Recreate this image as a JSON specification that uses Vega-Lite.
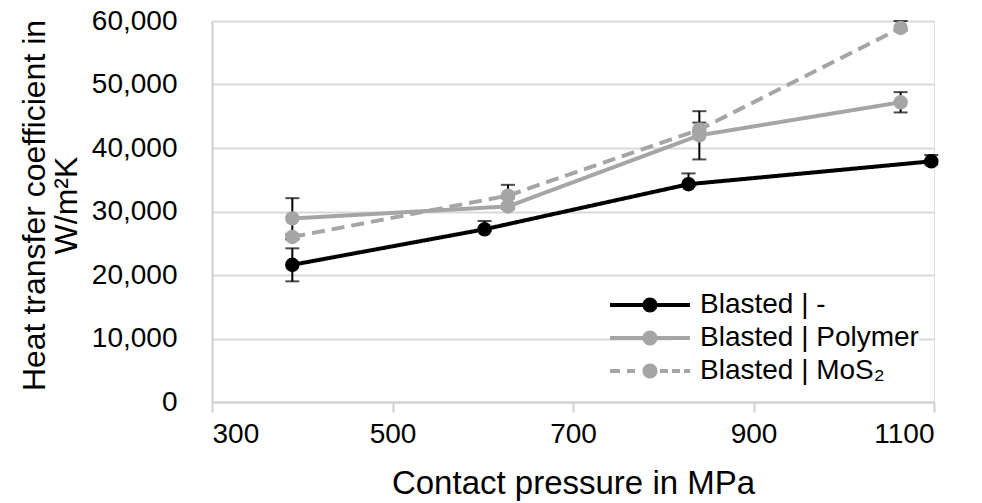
{
  "$schema": "https://vega.github.io/schema/vega-lite/v6.json",
  "autosize": {"type": "none"},
  "padding": {"left": 212, "top": 21, "right": 48, "bottom": 101},
  "width": 722,
  "height": 381,
  "background": "white",
  "data": {
    "values": [
      {"series": "Blasted | -", "p": 389, "h": 21600, "lo": 19000, "hi": 24200},
      {"series": "Blasted | -", "p": 602, "h": 27200, "lo": 26900, "hi": 28500},
      {"series": "Blasted | -", "p": 828, "h": 34300, "lo": 34000, "hi": 36000},
      {"series": "Blasted | -", "p": 1097, "h": 37900, "lo": 37400, "hi": 38900},
      {"series": "Blasted | Polymer", "p": 389, "h": 28900, "lo": 25700, "hi": 32100},
      {"series": "Blasted | Polymer", "p": 628, "h": 30800, "lo": 30400, "hi": 31200},
      {"series": "Blasted | Polymer", "p": 840, "h": 42000, "lo": 38200, "hi": 45800},
      {"series": "Blasted | Polymer", "p": 1063, "h": 47200, "lo": 45600, "hi": 48800},
      {"series": "Blasted | MoS₂", "p": 389, "h": 26000, "lo": 25600, "hi": 26400},
      {"series": "Blasted | MoS₂", "p": 628, "h": 32500, "lo": 32100, "hi": 34200},
      {"series": "Blasted | MoS₂", "p": 840, "h": 42900, "lo": 42500, "hi": 44000},
      {"series": "Blasted | MoS₂", "p": 1063, "h": 58900, "lo": 58500, "hi": 60000}
    ]
  },
  "layer": [
    {
      "mark": {"type": "errorbar", "ticks": {"size": 14, "thickness": 2, "color": "black"}, "rule": {"strokeWidth": 2, "color": "black"}},
      "encoding": {
        "x": {"field": "p", "type": "quantitative", "title": "Contact pressure in MPa"},
        "y": {"field": "lo", "type": "quantitative", "title": ["Heat transfer coefficient in", "W/m²K"]},
        "y2": {"field": "hi"}
      }
    },
    {
      "mark": {"type": "line", "strokeWidth": 4},
      "encoding": {
        "x": {
          "field": "p", "type": "quantitative", "title": "Contact pressure in MPa",
          "scale": {"domain": [300, 1100], "nice": false, "zero": false},
          "axis": {
            "values": [300, 500, 700, 900, 1100], "format": "d", "grid": false,
            "domainColor": "#d0d0d0", "domainWidth": 2,
            "ticks": true, "tickColor": "#d0d0d0", "tickWidth": 2, "tickSize": 10,
            "labelFont": "Liberation Sans", "labelFontSize": 28, "labelColor": "black", "labelPadding": 8,
            "titleFont": "Liberation Sans", "titleFontSize": 33, "titleFontWeight": "normal", "titleColor": "black",
            "titleBaseline": "alphabetic", "titleY": 91
          }
        },
        "y": {
          "field": "h", "type": "quantitative", "title": ["Heat transfer coefficient in", "W/m²K"],
          "scale": {"domain": [0, 60000], "nice": false},
          "axis": {
            "values": [0, 10000, 20000, 30000, 40000, 50000, 60000], "format": ",.0f",
            "grid": true, "gridColor": "#d9d9d9", "gridWidth": 2,
            "domainColor": "#d0d0d0", "domainWidth": 2,
            "ticks": false, "tickSize": 0,
            "labelFont": "Liberation Sans", "labelFontSize": 28, "labelColor": "black", "labelPadding": 35,
            "titleFont": "Liberation Sans", "titleFontSize": 32, "titleFontWeight": "normal", "titleColor": "black",
            "titleAngle": -90, "titleBaseline": "alphabetic", "titleAlign": "center",
            "titleX": -168, "titleY": 184, "titleLineHeight": 32
          }
        },
        "color": {
          "field": "series", "type": "nominal",
          "scale": {"domain": ["Blasted | -", "Blasted | Polymer", "Blasted | MoS₂"], "range": ["#000000", "#a5a5a5", "#a5a5a5"]},
          "legend": {
            "title": null, "orient": "none", "legendX": 460, "legendY": 270, "padding": 0,
            "fillColor": "white", "labelFont": "Liberation Sans", "labelFontSize": 28, "labelColor": "black",
            "labelOffset": 0, "labelLimit": 400, "symbolSize": 64, "rowPadding": 5,
            "encode": {"symbols": {"update": {
              "shape": {"signal": "datum.value === 'Blasted | MoS₂' ? 'M-19,-0.5H-16.5V0.5H-19Z M-14.75,-0.5H-12.75V0.5H-14.75Z M-6.5,-0.5H-4.5V0.5H-6.5Z M-3.5,-0.5H-1.5V0.5H-3.5Z M-0.5,-0.5H1V0.5H-0.5Z M-10.875,0A1.875,1.875,0,1,1,-7.125,0A1.875,1.875,0,1,1,-10.875,0Z' : 'M-19,-0.5H1V0.5H-19Z M-10.875,0A1.875,1.875,0,1,1,-7.125,0A1.875,1.875,0,1,1,-10.875,0Z'"},
              "fill": {"signal": "scale('color', datum.value)"},
              "stroke": {"value": "transparent"},
              "strokeWidth": {"value": 0},
              "opacity": {"value": 1}
            }}}
          }
        },
        "strokeDash": {
          "field": "series", "type": "nominal",
          "scale": {"domain": ["Blasted | -", "Blasted | Polymer", "Blasted | MoS₂"], "range": [[1, 0], [1, 0], [13, 7]]},
          "legend": null
        }
      }
    },
    {
      "mark": {"type": "point", "filled": true, "size": 210, "opacity": 1},
      "encoding": {
        "x": {"field": "p", "type": "quantitative"},
        "y": {"field": "h", "type": "quantitative"},
        "color": {"field": "series", "type": "nominal"}
      }
    }
  ]
}
